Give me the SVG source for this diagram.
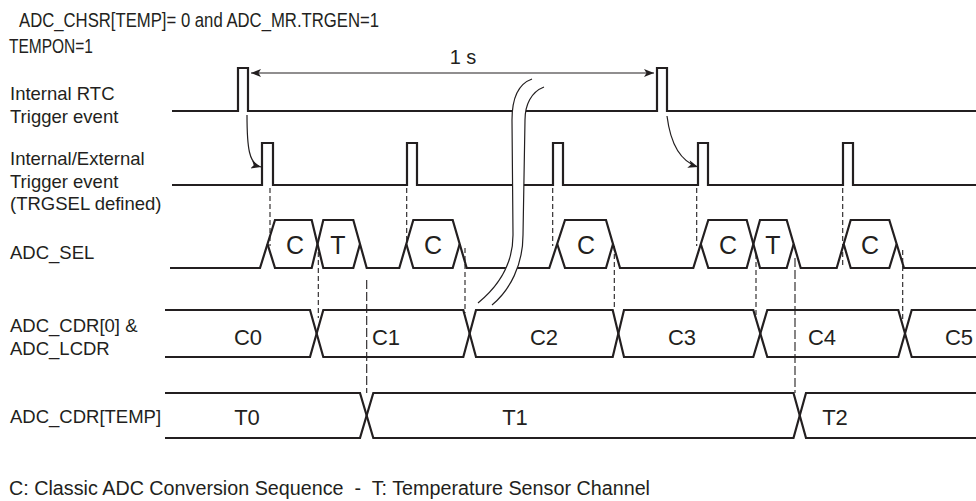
<svg xmlns="http://www.w3.org/2000/svg" width="976" height="501" viewBox="0 0 976 501">
<style>
text{font-family:"Liberation Sans",Arial,sans-serif;fill:#231f20}
.lbl{font-size:18.5px}
.ttl{font-size:20.5px}
.note{font-size:20px}
.val{font-size:22px;text-anchor:middle}
.hex{font-size:25px;text-anchor:middle}
.sig{fill:none;stroke:#231f20;stroke-width:2.2;stroke-linejoin:miter}
.dash{fill:none;stroke:#231f20;stroke-width:1.1;stroke-dasharray:5,3}
.ldash{fill:none;stroke:#231f20;stroke-width:1.1;stroke-dasharray:9,3}
.arr{fill:none;stroke:#231f20;stroke-width:1.2}
.brk{fill:none;stroke:#231f20;stroke-width:1.2}
</style>
<defs>
<marker id="ah" viewBox="0 0 10 8" refX="10" refY="4" markerWidth="11" markerHeight="8" markerUnits="userSpaceOnUse" orient="auto-start-reverse">
<path d="M0,0 L10,4 L0,8 L2.5,4 z" fill="#231f20"/>
</marker>
</defs>
<rect width="976" height="501" fill="#fff"/>

<g id="title">
<text class="ttl" x="19" y="27" textLength="360" lengthAdjust="spacingAndGlyphs">ADC_CHSR[TEMP]= 0 and ADC_MR.TRGEN=1</text>
<text class="ttl" x="9" y="53" textLength="84" lengthAdjust="spacingAndGlyphs">TEMPON=1</text>
</g>

<g id="labels">
<text class="lbl" x="10" y="100">Internal RTC</text>
<text class="lbl" x="10" y="123">Trigger event</text>
<text class="lbl" x="10" y="165">Internal/External</text>
<text class="lbl" x="10" y="188">Trigger event</text>
<text class="lbl" x="10" y="210">(TRGSEL defined)</text>
<text class="lbl" x="10" y="259">ADC_SEL</text>
<text class="lbl" x="10" y="332">ADC_CDR[0] &amp;</text>
<text class="lbl" x="10" y="355">ADC_LCDR</text>
<text class="lbl" x="10" y="423">ADC_CDR[TEMP]</text>
</g>

<g id="sig-rtc">
<path class="sig" d="M172,111 H238 V68 H248 V111 H657 V68 H667 V111 H976"/>
</g>

<g id="sig-trigger">
<path class="sig" d="M172,185 H262 V143 H273 V185 H407 V143 H417 V185 H553 V143 H563 V185 H698 V143 H708 V185 H843 V143 H853 V185 H976"/>
</g>

<g id="sig-sel">
<path class="sig" d="M170,268 H260 L275,220 H311.7 L323.3,268 H353.3 L360,244"/>
<path class="sig" d="M267.5,244 L275,268 H311.7 L323.3,220 H353.3 L366.7,268 H399.3 L413.3,220 H452.7 L466.7,268 H549.3 L565,220 H606 L620,268 H693.3 L708.3,220 H746.7 L760,268 H786.7 L793.7,244"/>
<path class="sig" d="M406.3,244 L413.3,268 H452.7 L459.7,244"/>
<path class="sig" d="M557.2,244 L565,268 H606 L613,244"/>
<path class="sig" d="M700.8,244 L708.3,268 H746.7 L760,220 H786.7 L800.7,268 H836.7 L850.7,220 H889.3 L904,268 H976"/>
<path class="sig" d="M843.7,244 L850.7,268 H889.3 L896.7,244"/>
<text class="hex" x="295" y="254">C</text>
<text class="hex" x="338" y="254">T</text>
<text class="hex" x="433" y="254">C</text>
<text class="hex" x="586" y="254">C</text>
<text class="hex" x="728" y="254">C</text>
<text class="hex" x="773" y="254">T</text>
<text class="hex" x="870" y="254">C</text>
</g>

<g id="sig-cdr0">
<path class="sig" d="M165,310 H310 L323.3,357 H463.3 L476,310 H612.7 L624,357 H753.3 L767.3,310 H898.3 L911.7,357 H976"/>
<path class="sig" d="M165,357 H310 L323.3,310 H463.3 L476,357 H612.7 L624,310 H753.3 L767.3,357 H898.3 L911.7,310 H976"/>
<text class="val" x="248" y="345">C0</text>
<text class="val" x="386" y="345">C1</text>
<text class="val" x="544" y="345">C2</text>
<text class="val" x="682" y="345">C3</text>
<text class="val" x="822" y="345">C4</text>
<text class="val" x="959" y="345">C5</text>
</g>

<g id="sig-cdrtemp">
<path class="sig" d="M165,393 H360 L373.3,438 H793.5 L806,393 H976"/>
<path class="sig" d="M165,438 H360 L373.3,393 H793.5 L806,438 H976"/>
<text class="val" x="247" y="425">T0</text>
<text class="val" x="515" y="425">T1</text>
<text class="val" x="835" y="425">T2</text>
</g>

<g id="connectors">
<path class="dash" d="M270,188 V246 M406.7,188 V242 M552.7,188 V246 M696.7,188 V246 M842.7,188 V266"/>
<path class="dash" d="M318.3,252 V318 M465,248 V313 M614.3,246 V308 M756,254 V316 M902.7,250 V320"/>
<path class="ldash" d="M366.7,280 V393 M795,258 V393"/>
<path class="arr" d="M251,73 H654" marker-start="url(#ah)" marker-end="url(#ah)"/>
<path class="arr" d="M247,115 C247,148 249,164 261,167" marker-end="url(#ah)"/>
<path class="arr" d="M667,116 C670,140 679,161 698,167" marker-end="url(#ah)"/>
</g>
<text class="note" x="463" y="64" text-anchor="middle">1 s</text>

<g id="break">
<path d="M532,79 C518,84 512,100 512,120 L513,235 C513,262 500,285 478,303 L492,305 C510,290 523,265 523,235 L525,120 C525,105 531,92 544,87 Z" fill="#fff"/>
<path class="brk" d="M532,79 C518,84 512,100 512,120 L513,235 C513,262 500,285 478,303"/>
<path class="brk" d="M544,87 C531,92 525,105 525,120 L523,235 C523,265 510,290 492,305"/>
</g>

<g id="legend">
<text class="note" x="9" y="495" xml:space="preserve" textLength="641" lengthAdjust="spacingAndGlyphs">C: Classic ADC Conversion Sequence  -  T: Temperature Sensor Channel</text>
</g>
</svg>
